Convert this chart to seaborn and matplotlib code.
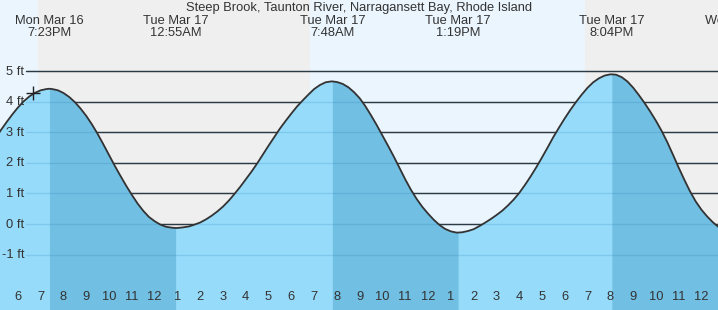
import matplotlib
matplotlib.use("Agg")
import matplotlib.pyplot as plt
import matplotlib.transforms as mtransforms
import numpy as np
import seaborn as sns

# ---------------- data ----------------
# time in hours since Mon Mar 16 00:00, height in ft
times = [17.0, 17.25, 17.5, 17.75, 18.0, 18.25, 18.5, 18.75, 19.0, 19.25, 19.38,
         19.5, 19.75, 20.0, 20.25, 20.5, 20.75, 21.0, 21.25, 21.5, 21.75, 22.0,
         22.25, 22.5, 22.75, 23.0, 23.25, 23.5, 23.75, 24.0, 24.25, 24.5, 24.75,
         24.92, 25.0, 25.25, 25.5, 25.75, 26.0, 26.25, 26.5, 26.75, 27.0, 27.25,
         27.5, 27.75, 28.0, 28.25, 28.5, 28.75, 29.0, 29.25, 29.5, 29.75, 30.0,
         30.25, 30.5, 30.75, 31.0, 31.25, 31.5, 31.75, 31.8, 32.0, 32.25, 32.5,
         32.75, 33.0, 33.25, 33.5, 33.75, 34.0, 34.25, 34.5, 34.75, 35.0, 35.25,
         35.5, 35.75, 36.0, 36.25, 36.5, 36.75, 37.0, 37.25, 37.32, 37.5, 37.75,
         38.0, 38.25, 38.5, 38.75, 39.0, 39.25, 39.5, 39.75, 40.0, 40.25, 40.5,
         40.75, 41.0, 41.25, 41.5, 41.75, 42.0, 42.25, 42.5, 42.75, 43.0, 43.25,
         43.5, 43.75, 44.0, 44.07, 44.25, 44.5, 44.75, 45.0, 45.25, 45.5, 45.75,
         46.0, 46.25, 46.5, 46.75, 47.0, 47.25, 47.5, 47.75, 48.0, 48.25, 48.5,
         48.75, 49.0]
heights = [2.78, 3.07, 3.33, 3.58, 3.81, 4.01, 4.17, 4.29, 4.37, 4.41, 4.42,
           4.41, 4.37, 4.28, 4.15, 3.98, 3.77, 3.53, 3.25, 2.94, 2.60, 2.25,
           1.90, 1.57, 1.25, 0.95, 0.67, 0.43, 0.23, 0.09, -0.02, -0.09, -0.12,
           -0.13, -0.13, -0.11, -0.08, -0.02, 0.05, 0.15, 0.27, 0.41, 0.57, 0.76,
           0.98, 1.21, 1.46, 1.71, 1.98, 2.27, 2.56, 2.84, 3.12, 3.37, 3.61,
           3.84, 4.04, 4.23, 4.41, 4.54, 4.63, 4.66, 4.66, 4.64, 4.58, 4.47,
           4.31, 4.11, 3.85, 3.55, 3.23, 2.89, 2.55, 2.20, 1.83, 1.46, 1.12,
           0.82, 0.56, 0.34, 0.14, -0.03, -0.16, -0.24, -0.28, -0.28, -0.27, -0.23,
           -0.17, -0.07, 0.04, 0.16, 0.29, 0.43, 0.60, 0.79, 1.01, 1.27, 1.55,
           1.85, 2.17, 2.50, 2.84, 3.15, 3.45, 3.73, 3.99, 4.23, 4.45, 4.63,
           4.76, 4.85, 4.89, 4.89, 4.88, 4.80, 4.66, 4.46, 4.22, 3.96, 3.68,
           3.38, 3.05, 2.68, 2.27, 1.85, 1.45, 1.07, 0.74, 0.47, 0.25, 0.06,
           -0.10, -0.24]

tide_hours = [19.38, 24.92, 31.8, 37.32, 44.07, 49.69]
tide_days = ["Mon Mar 16", "Tue Mar 17", "Tue Mar 17", "Tue Mar 17", "Tue Mar 17", "Wed Mar 18"]
tide_clock = ["7:23PM", "12:55AM", "7:48AM", "1:19PM", "8:04PM", "1:41AM"]
high_hours = [19.38, 31.8, 44.07]
low_hours = [24.92, 37.32, 50.4]

now_hour = [18.66]
now_height = [4.27]

night_spans = [(18.88, 30.82), (42.89, 49.0)]

ft_levels = [-1, 0, 1, 2, 3, 4, 5]
ft_labels = ["-1 ft", "0 ft", "1 ft", "2 ft", "3 ft", "4 ft", "5 ft"]

hour_ticks = list(range(18, 49))
hour_labels = ["6", "7", "8", "9", "10", "11", "12", "1", "2", "3", "4", "5", "6", "7",
               "8", "9", "10", "11", "12", "1", "2", "3", "4", "5", "6", "7", "8", "9",
               "10", "11", "12"]

title = "Steep Brook, Taunton River, Narragansett Bay, Rhode Island"

# ---------------- style ----------------
sns.set_style("white")
plt.rcParams["font.family"] = ["Liberation Sans", "DejaVu Sans"]

DAY = "#ebf5fd"
NIGHT = "#efefef"
LIGHT = "#96dbfa"
DARK = "#71bfe3"
TXT = "#333333"

fig = plt.figure(figsize=(7.18, 3.10), dpi=100)
ax = fig.add_axes([0, 0, 1, 1])
XMIN, XMAX = 17.21, 48.73
YMIN, YMAX = -2.81, 7.32
ax.set_xlim(XMIN, XMAX)
ax.set_ylim(YMIN, YMAX)
ax.set_facecolor(DAY)
for s in ax.spines.values():
    s.set_visible(False)

for a, b in night_spans:
    ax.axvspan(a, b, color=NIGHT, lw=0, zorder=0)

# grid lines (behind the water)
for lv in ft_levels:
    ax.axhline(lv, xmin=26 / 718, xmax=1, color="#2b2b2b", lw=1.0, zorder=1)

t = np.array(times)
h = np.array(heights)
ax.fill_between(t, h, YMIN, color=LIGHT, lw=0, zorder=2)
for hi, lo in zip(high_hours, low_hours):
    mask = (t >= hi) & (t <= lo)
    ax.fill_between(t, h, YMIN, where=mask, color=DARK, lw=0, zorder=2)

# faint grid lines seen through the water
for lv in ft_levels:
    ax.axhline(lv, xmin=26 / 718, xmax=1, color="#2a7fb0", alpha=0.2, lw=1.0, zorder=3)

sns.lineplot(x=times, y=heights, ax=ax, color="#333333", linewidth=1.3,
             sort=False, estimator=None, zorder=4, legend=False)
ax.plot(now_hour, now_height, marker="+", ms=10, mew=1.0, color="#222222",
        ls="none", zorder=5)

# y labels
ytrans = mtransforms.blended_transform_factory(ax.transAxes, ax.transData)
for lv, lab in zip(ft_levels, ft_labels):
    ax.text(24.5 / 718, lv - 0.12, lab, transform=ytrans, ha="right", va="baseline",
            fontsize=9.3, color=TXT, zorder=6)

# hour ticks and labels
ax.set_xticks(hour_ticks)
ax.set_xticklabels([])
ax.set_yticks([])
ax.tick_params(axis="x", direction="in", length=5.8, width=0.8, color=TXT,
               bottom=True, labelbottom=False)
for tk, loc in zip(ax.xaxis.get_major_ticks(), hour_ticks):
    tk.tick1line.set_zorder(7)
    if loc % 24 == 0:
        tk.tick1line.set_markeredgewidth(2.4)
xtrans = ax.get_xaxis_transform()
for loc, lab in zip(hour_ticks, hour_labels):
    ax.text(loc, 10 / 310, lab, transform=xtrans, ha="center", va="baseline",
            fontsize=9.3, color=TXT, zorder=6)

# tide labels at top
ax.text(0.4995, 1 - 11 / 310, title, transform=ax.transAxes, ha="center",
        va="baseline", fontsize=9.3, color=TXT, zorder=6)
for th, d, c in zip(tide_hours, tide_days, tide_clock):
    ax.text(th, 1 - 24 / 310, d, transform=xtrans, ha="center", va="baseline",
            fontsize=9.3, color=TXT, zorder=6, clip_on=True)
    ax.text(th, 1 - 36 / 310, c, transform=xtrans, ha="center", va="baseline",
            fontsize=9.3, color=TXT, zorder=6, clip_on=True)

fig.savefig("out.png", dpi=100)
